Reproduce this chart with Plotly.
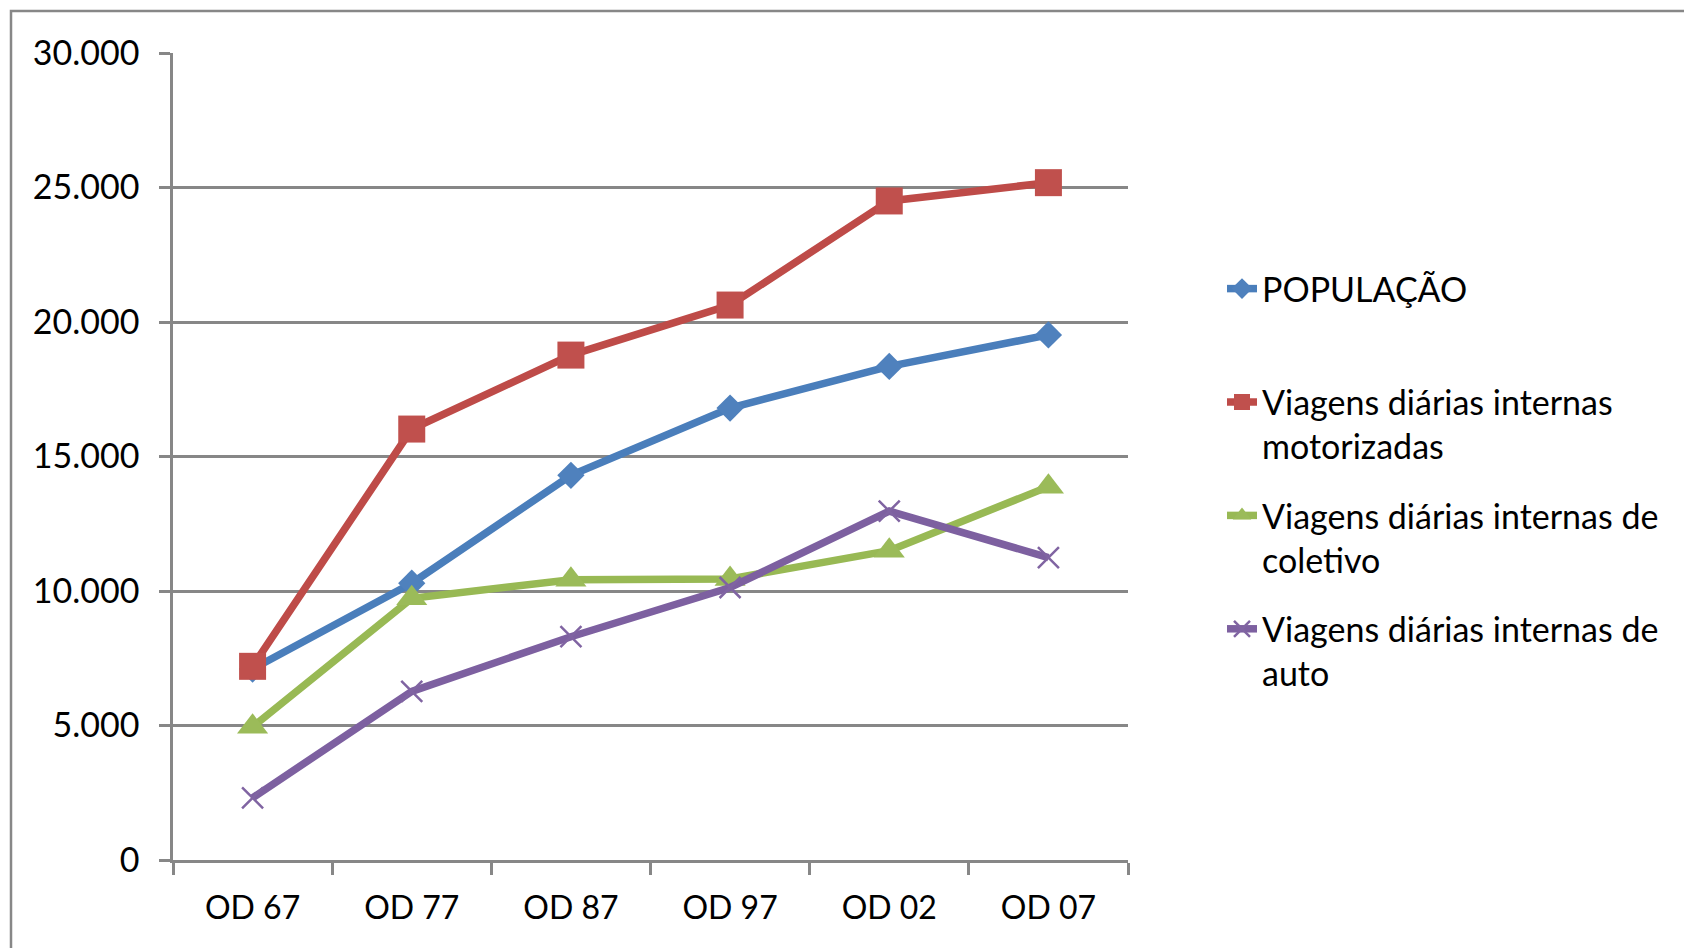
import plotly.graph_objects as go

# Survey editions (Pesquisa OD) and values in thousands
categories = ["OD 67", "OD 77", "OD 87", "OD 97", "OD 02", "OD 07"]
populacao = [7100, 10290, 14300, 16800, 18350, 19520]
viagens_motorizadas = [7200, 16020, 18770, 20630, 24500, 25180]
viagens_coletivo = [4950, 9730, 10420, 10450, 11500, 13880]
viagens_auto = [2310, 6270, 8300, 10130, 12970, 11240]

series_names = [
    "POPULAÇÃO<br>\u00a0",
    "Viagens diárias internas<br>motorizadas",
    "Viagens diárias internas de<br>coletivo",
    "Viagens diárias internas de<br>auto",
]
y_ticks = [0, 5000, 10000, 15000, 20000, 25000, 30000]

FONT = "Lato"
FS = 34
GRAY = "#878787"

fig = go.Figure()

styles = [
    dict(line="#4A7EBB", marker=dict(symbol="diamond", size=21, color="#4F81BD", line=dict(width=0))),
    dict(line="#BE4B48", marker=dict(symbol="square", size=27, color="#C0504D", line=dict(width=0))),
    dict(line="#98B954", marker=dict(symbol="triangle-up", size=27, color="#9BBB59", line=dict(width=0))),
    dict(line="#7D60A0", marker=dict(symbol="x-thin-open", size=21, color="#8064A2",
                                     line=dict(width=2.5, color="#8064A2"))),
]

for name, vals, st, grp in zip(series_names,
                               [populacao, viagens_motorizadas, viagens_coletivo, viagens_auto],
                               styles, ["a", "b", "c", "d"]):
    fig.add_trace(go.Scatter(
        x=categories, y=vals, name=name, mode="lines+markers",
        line=dict(color=st["line"], width=7.5),
        marker=st["marker"], legendgroup=grp,
    ))

# Outer chart frame (extends past the right and bottom edges)
fig.add_shape(type="rect", xref="paper", yref="paper",
              x0=(11 - 173) / 955, x1=2.0, y0=-1.0, y1=(860 - 11) / 807,
              line=dict(color=GRAY, width=2.5), fillcolor="rgba(0,0,0,0)", layer="below")

fig.update_layout(
    width=1684, height=948,
    margin=dict(l=173, r=556, t=53, b=88),
    paper_bgcolor="white", plot_bgcolor="white",
    font=dict(family=FONT, size=FS, color="black"),
    separators=",.",
    showlegend=True,
    legend=dict(
        x=(1222 - 173) / 955, xanchor="left",
        y=(860 - 260) / 807, yanchor="top",
        valign="top", tracegroupgap=22,
        font=dict(family=FONT, size=FS, color="black"),
        bgcolor="rgba(0,0,0,0)",
    ),
    xaxis=dict(
        type="category", range=[-0.5, 5.5],
        showline=True, linecolor=GRAY, linewidth=2.5,
        ticks="outside", tickson="boundaries", ticklen=12, tickwidth=2.5, tickcolor=GRAY,
        showgrid=False, ticklabelstandoff=18,
        tickfont=dict(family=FONT, size=32, color="black"),
    ),
    yaxis=dict(
        range=[0, 30000], tickvals=y_ticks, tickformat=",d",
        showline=True, linecolor=GRAY, linewidth=2.5,
        ticks="outside", ticklen=11, tickwidth=2.5, tickcolor=GRAY,
        showgrid=True, gridcolor=GRAY, gridwidth=2.5, zeroline=False,
        ticklabelstandoff=13,
        tickfont=dict(family=FONT, size=FS, color="black"),
    ),
)

fig.write_html("out.html")
